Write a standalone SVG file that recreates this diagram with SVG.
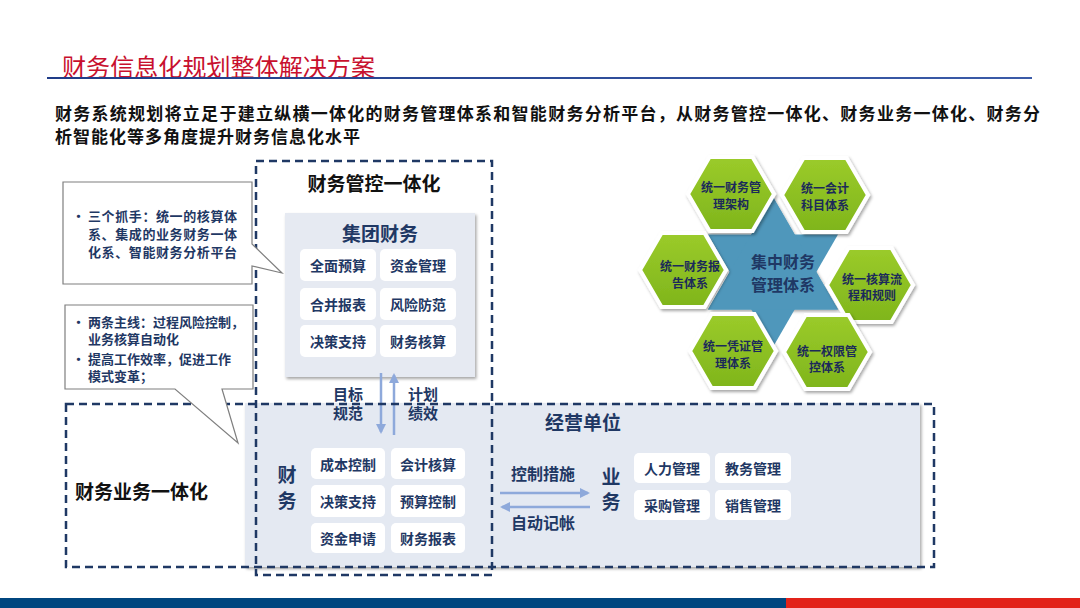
<svg xmlns="http://www.w3.org/2000/svg" width="1080" height="608" viewBox="0 0 1080 608">
<defs>
<style>
text{font-family:"Noto Sans CJK SC","Noto Sans",sans-serif;font-weight:bold}
.nv{fill:#1F3864}
.btn{fill:#FFFFFF}
.bt{font-size:14px;fill:#1F3864;text-anchor:middle;dominant-baseline:central}
.dash{fill:none;stroke:#1F3864;stroke-width:2.5;stroke-dasharray:8 5}
.co{fill:#FFFFFF;stroke:#7F7F7F;stroke-width:1.2}
.ct{font-size:13px;fill:#1F3864}
.hx{fill:url(#gg);stroke:#FFFFFF;stroke-width:4;filter:url(#sh)}
.ht{font-size:12px;fill:#1B2A5A;text-anchor:middle;dominant-baseline:central}
.arr{stroke:#8EA9DB;stroke-width:2.5;fill:none}
.al{font-size:15px;fill:#1F3864;text-anchor:middle;dominant-baseline:central}
</style>
<linearGradient id="gg" x1="0" y1="0" x2="0" y2="1">
<stop offset="0" stop-color="#9BCB2A"/><stop offset="1" stop-color="#7FB51C"/>
</linearGradient>
<linearGradient id="tl" x1="0" y1="0" x2="1" y2="0">
<stop offset="0" stop-color="#1F3C88"/><stop offset="1" stop-color="#3B5BA8"/>
</linearGradient>
<filter id="sh" x="-20%" y="-20%" width="140%" height="140%">
<feDropShadow dx="1.5" dy="2" stdDeviation="1.8" flood-color="#000" flood-opacity="0.35"/>
</filter>
<marker id="ah" viewBox="0 0 10 10" refX="8" refY="5" markerWidth="4" markerHeight="4" orient="auto">
<path d="M0,0 L10,5 L0,10 z" fill="#8EA9DB"/>
</marker>
<polygon id="hex" points="-43,0 -21.5,-37 21.5,-37 43,0 21.5,37 -21.5,37"/>
</defs>
<rect width="1080" height="608" fill="#FFFFFF"/>

<g id="header">
<text x="62" y="76" font-size="24" fill="#C8102E" style="font-weight:normal" textLength="313" lengthAdjust="spacingAndGlyphs">财务信息化规划整体解决方案</text>
<rect x="47" y="77" width="985" height="2" fill="url(#tl)"/>
<text x="55" y="120" font-size="17" fill="#111" textLength="985" lengthAdjust="spacing">财务系统规划将立足于建立纵横一体化的财务管理体系和智能财务分析平台，从财务管控一体化、财务业务一体化、财务分</text>
<text x="55" y="143" font-size="17" fill="#111" textLength="305" lengthAdjust="spacing">析智能化等多角度提升财务信息化水平</text>
</g>

<g id="business-panel">
<rect x="245" y="403" width="675" height="164" fill="#E4E9F2" filter="url(#sh)"/>
<text x="583" y="421" font-size="19" class="nv" text-anchor="middle" dominant-baseline="central">经营单位</text>
</g>

<g id="group-finance">
<rect x="285" y="213" width="190" height="164" fill="#E6EAF2" filter="url(#sh)"/>
<text x="380" y="232" font-size="19" class="nv" text-anchor="middle" dominant-baseline="central">集团财务</text>
<rect class="btn" x="300" y="249" width="76" height="32" rx="5"/><text class="bt" x="338" y="265">全面预算</text>
<rect class="btn" x="380" y="249" width="76" height="32" rx="5"/><text class="bt" x="418" y="265">资金管理</text>
<rect class="btn" x="300" y="288" width="76" height="32" rx="5"/><text class="bt" x="338" y="304">合并报表</text>
<rect class="btn" x="380" y="288" width="76" height="32" rx="5"/><text class="bt" x="418" y="304">风险防范</text>
<rect class="btn" x="300" y="325" width="76" height="32" rx="5"/><text class="bt" x="338" y="341">决策支持</text>
<rect class="btn" x="380" y="325" width="76" height="32" rx="5"/><text class="bt" x="418" y="341">财务核算</text>
</g>

<g id="finance-unit">
<text x="287" y="473" font-size="19" class="nv" text-anchor="middle" dominant-baseline="central">财</text>
<text x="287" y="499" font-size="19" class="nv" text-anchor="middle" dominant-baseline="central">务</text>
<rect class="btn" x="311" y="448" width="74" height="31" rx="5"/><text class="bt" x="348" y="463.5">成本控制</text>
<rect class="btn" x="391" y="448" width="74" height="31" rx="5"/><text class="bt" x="428" y="463.5">会计核算</text>
<rect class="btn" x="311" y="485" width="74" height="32" rx="5"/><text class="bt" x="348" y="501">决策支持</text>
<rect class="btn" x="391" y="485" width="74" height="32" rx="5"/><text class="bt" x="428" y="501">预算控制</text>
<rect class="btn" x="311" y="523" width="74" height="30" rx="5"/><text class="bt" x="348" y="538">资金申请</text>
<rect class="btn" x="391" y="523" width="74" height="30" rx="5"/><text class="bt" x="428" y="538">财务报表</text>
</g>

<g id="business-unit">
<text x="611" y="475" font-size="19" class="nv" text-anchor="middle" dominant-baseline="central">业</text>
<text x="611" y="500" font-size="19" class="nv" text-anchor="middle" dominant-baseline="central">务</text>
<rect class="btn" x="634" y="453" width="76" height="30" rx="5"/><text class="bt" x="672" y="468">人力管理</text>
<rect class="btn" x="715" y="453" width="76" height="30" rx="5"/><text class="bt" x="753" y="468">教务管理</text>
<rect class="btn" x="634" y="490" width="76" height="30" rx="5"/><text class="bt" x="672" y="505">采购管理</text>
<rect class="btn" x="715" y="490" width="76" height="30" rx="5"/><text class="bt" x="753" y="505">销售管理</text>
</g>

<g id="connectors">
<line class="arr" x1="381" y1="373" x2="381" y2="432" marker-end="url(#ah)"/>
<line class="arr" x1="394" y1="435" x2="394" y2="375" marker-end="url(#ah)"/>
<text class="al" x="348" y="393">目标</text>
<text class="al" x="348" y="412">规范</text>
<text class="al" x="423" y="393">计划</text>
<text class="al" x="423" y="412">绩效</text>
<line class="arr" x1="500" y1="493" x2="588" y2="493" marker-end="url(#ah)"/>
<line class="arr" x1="590" y1="507" x2="502" y2="507" marker-end="url(#ah)"/>
<text x="543" y="473" font-size="16" class="nv" text-anchor="middle" dominant-baseline="central">控制措施</text>
<text x="543" y="522" font-size="16" class="nv" text-anchor="middle" dominant-baseline="central">自动记帐</text>
</g>

<g id="box-control">
<rect class="dash" x="256" y="161" width="236" height="414"/>
<text x="374" y="182" font-size="19" fill="#111" text-anchor="middle" dominant-baseline="central">财务管控一体化</text>
</g>

<g id="box-integration">
<rect class="dash" x="66" y="404" width="868" height="163"/>
<text x="75" y="490" font-size="19" fill="#111" dominant-baseline="central">财务业务一体化</text>
</g>

<g id="callout-1">
<path class="co" d="M63,182 H252 V244 L282,273 L252,266 V284 H63 Z"/>
<text class="ct" x="72" y="221">•</text>
<text class="ct" x="88" y="221" textLength="149" lengthAdjust="spacing">三个抓手：统一的核算体</text>
<text class="ct" x="88" y="239" textLength="149" lengthAdjust="spacing">系、集成的业务财务一体</text>
<text class="ct" x="88" y="257" textLength="149" lengthAdjust="spacing">化系、智能财务分析平台</text>
</g>

<g id="callout-2">
<path class="co" d="M65,305 H253 V389 H222 L238,443 L175,389 H65 Z"/>
<text class="ct" x="72" y="327">•</text>
<text class="ct" x="88" y="327" textLength="156" lengthAdjust="spacing">两条主线：过程风险控制，</text>
<text class="ct" x="88" y="344">业务核算自动化</text>
<text class="ct" x="72" y="364">•</text>
<text class="ct" x="88" y="364" textLength="143" lengthAdjust="spacing">提高工作效率，促进工作</text>
<text class="ct" x="88" y="381">模式变革；</text>
</g>

<g id="center-star">
<polygon points="773,197 838,309.5 708,309.5" fill="#4F97BB" filter="url(#sh)"/>
<polygon points="773,347 708,234.5 838,234.5" fill="#4F97BB"/>
<polygon points="773,197 838,309.5 708,309.5" fill="#4F97BB"/>
<text x="783" y="261" font-size="16" class="nv" text-anchor="middle" dominant-baseline="central">集中财务</text>
<text x="783" y="284" font-size="16" class="nv" text-anchor="middle" dominant-baseline="central">管理体系</text>
</g>

<g id="hex-1">
<use href="#hex" class="hx" x="731" y="194"/>
<text class="ht" x="731" y="194" dy="-8">统一财务管</text>
<text class="ht" x="731" y="194" dy="9">理架构</text>
</g>
<g id="hex-2">
<use href="#hex" class="hx" x="825" y="195"/>
<text class="ht" x="825" y="195" dy="-8">统一会计</text>
<text class="ht" x="825" y="195" dy="9">科目体系</text>
</g>
<g id="hex-3">
<use href="#hex" class="hx" x="683" y="270"/>
<text class="ht" x="690" y="270" dy="-5">统一财务报</text>
<text class="ht" x="690" y="270" dy="12">告体系</text>
</g>
<g id="hex-4">
<use href="#hex" class="hx" x="870" y="285"/>
<text class="ht" x="872" y="285" dy="-7">统一核算流</text>
<text class="ht" x="872" y="285" dy="9">程和规则</text>
</g>
<g id="hex-5">
<use href="#hex" class="hx" x="733" y="351"/>
<text class="ht" x="733" y="351" dy="-6">统一凭证管</text>
<text class="ht" x="733" y="351" dy="11">理体系</text>
</g>
<g id="hex-6">
<use href="#hex" class="hx" x="827" y="352"/>
<text class="ht" x="827" y="352" dy="-2">统一权限管</text>
<text class="ht" x="827" y="352" dy="14">控体系</text>
</g>

<g id="footer">
<rect x="0" y="598" width="786" height="10" fill="#00467F"/>
<rect x="786" y="598" width="294" height="10" fill="#E2231A"/>
</g>
</svg>
